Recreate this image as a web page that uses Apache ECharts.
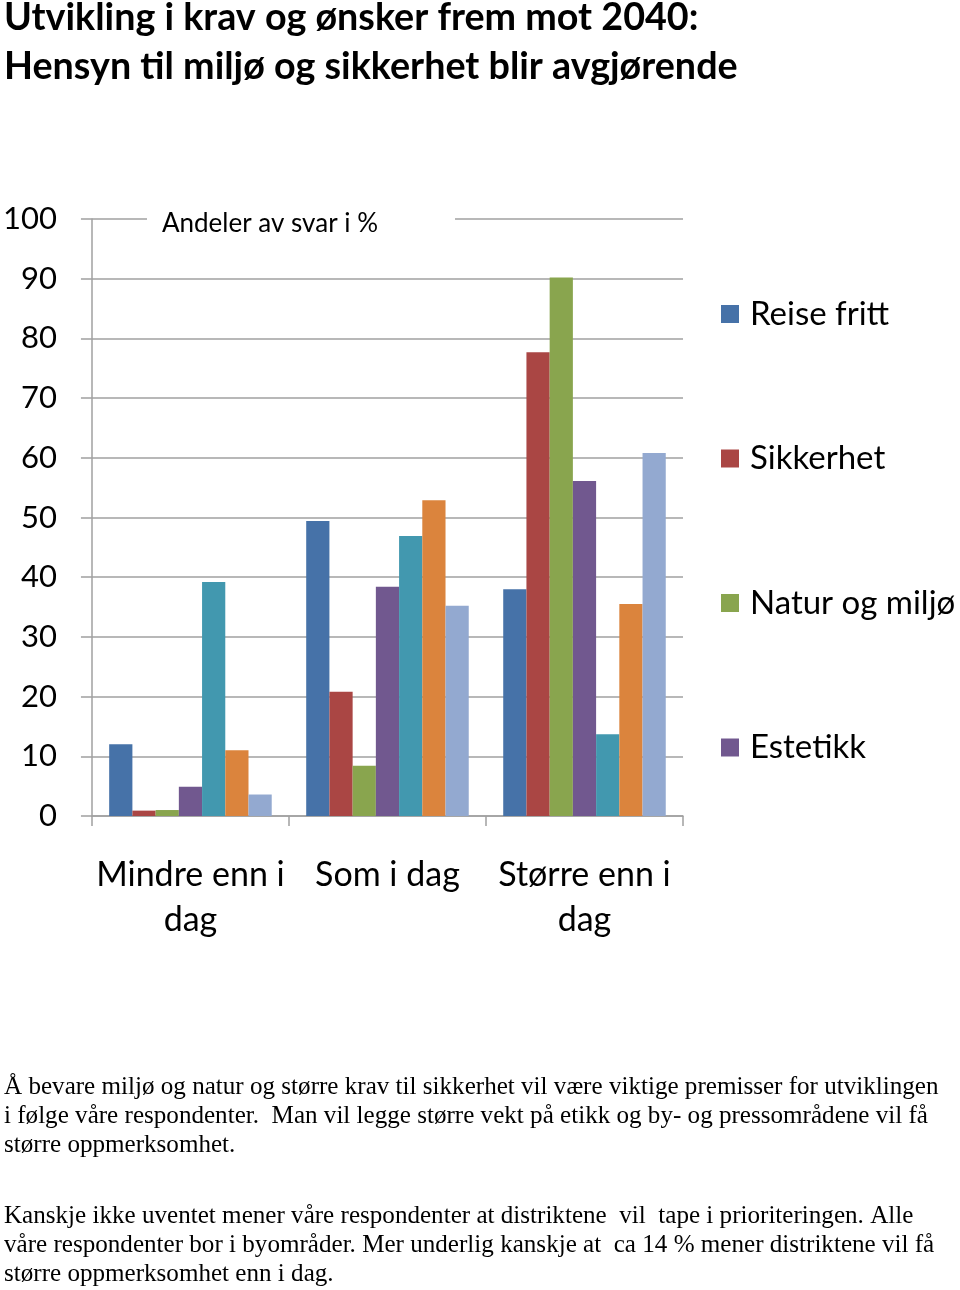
<!DOCTYPE html>
<html><head><meta charset="utf-8">
<script src="https://cdn.jsdelivr.net/npm/echarts@6/dist/echarts.min.js"></script>
<style>html,body{margin:0;padding:0;background:#fff}#c{width:960px;height:1290px}</style>
</head><body><div id="c"></div>
<script>
const categories = ['Mindre enn i\ndag', 'Som i dag', 'Større enn i\ndag'];
const seriesNames = ['Reise fritt', 'Sikkerhet', 'Natur og miljø', 'Estetikk', 'Distriktene', 'Etikk', 'By- og pressområder'];
const reise = [12, 49.4, 38];
const sikkerhet = [0.9, 20.8, 77.7];
const naturOgMiljo = [1, 8.4, 90.2];
const estetikk = [4.9, 38.4, 56.1];
const distriktene = [39.2, 46.9, 13.7];
const etikk = [11, 52.9, 35.5];
const byOgPress = [3.6, 35.2, 60.8];
const yTicks = [0, 10, 20, 30, 40, 50, 60, 70, 80, 90, 100];
const legendShown = ['Reise fritt', 'Sikkerhet', 'Natur og miljø', 'Estetikk'];
const titleLines = ['Utvikling i krav og ønsker frem mot 2040:', 'Hensyn til miljø og sikkerhet blir avgjørende'];
const axisCaption = 'Andeler av svar i %';
const bodyParagraph1 = [
  'Å bevare miljø og natur og større krav til sikkerhet vil være viktige premisser for utviklingen',
  'i følge våre respondenter.  Man vil legge større vekt på etikk og by- og pressområdene vil få',
  'større oppmerksomhet.'
];
const bodyParagraph2 = [
  'Kanskje ikke uventet mener våre respondenter at distriktene  vil  tape i prioriteringen. Alle',
  'våre respondenter bor i byområder. Mer underlig kanskje at  ca 14 % mener distriktene vil få',
  'større oppmerksomhet enn i dag.'
];
const colors = ['#4672A8', '#AA4644', '#89A54E', '#71588F', '#4298AF', '#DB843D', '#93A9D0'];
const seriesData = [reise, sikkerhet, naturOgMiljo, estetikk, distriktene, etikk, byOgPress];

const FONT = 'Lato';
const GRID = '#A0A0A0';
const chart = echarts.init(document.getElementById('c'), null, {renderer: 'canvas'});
const graphics = [];
titleLines.forEach((t, i) => graphics.push({
  type: 'text', x: 4, y: 18 + i * 49,
  style: {text: t, font: 'bold 37.7px ' + FONT, fill: '#000', verticalAlign: 'middle'}
}));
graphics.push({type: 'rect', shape: {x: 147, y: 213, width: 308, height: 13}, style: {fill: '#fff'}, z: 10});
graphics.push({type: 'text', x: 162, y: 224, z: 11,
  style: {text: axisCaption, font: '26px ' + FONT, fill: '#000', verticalAlign: 'middle'}});
bodyParagraph1.forEach((t, i) => graphics.push({type: 'text', x: 4, y: 1087 + i * 29,
  style: {text: t, font: '25.1px "Liberation Serif"', fill: '#000', verticalAlign: 'middle'}}));
bodyParagraph2.forEach((t, i) => graphics.push({type: 'text', x: 4, y: 1216 + i * 29,
  style: {text: t, font: '25.1px "Liberation Serif"', fill: '#000', verticalAlign: 'middle'}}));

chart.setOption({
  animation: false,
  color: colors,
  textStyle: {fontFamily: FONT},
  grid: {left: 91, right: 277, top: 219, bottom: 474, containLabel: false},
  legend: {
    data: legendShown, orient: 'vertical', left: 721, top: 296, padding: 0,
    itemWidth: 18, itemHeight: 18, icon: 'rect', itemGap: 108.5,
    textStyle: {fontSize: 33, color: '#000', fontFamily: FONT, lineHeight: 36, padding: [0, 0, 0, 6]}
  },
  xAxis: {
    type: 'category', data: categories,
    axisLine: {lineStyle: {color: GRID, width: 1.5}},
    axisTick: {show: true, length: 10, lineStyle: {color: GRID, width: 1.5}},
    axisLabel: {fontSize: 34, color: '#000', fontFamily: FONT, margin: 37, lineHeight: 45, interval: 0}
  },
  yAxis: {
    type: 'value', min: 0, max: 100, interval: 10,
    axisLine: {show: true, lineStyle: {color: GRID, width: 1.5}},
    axisTick: {show: true, length: 11, lineStyle: {color: GRID, width: 1.5}},
    splitLine: {lineStyle: {color: GRID, width: 1.5}},
    axisLabel: {fontSize: 31, color: '#000', fontFamily: FONT, margin: 35}
  },
  series: seriesNames.map((n, i) => ({
    name: n, type: 'bar', data: seriesData[i], barGap: '0%', barCategoryGap: '17.5%'
  })),
  graphic: graphics
});
</script></body></html>
